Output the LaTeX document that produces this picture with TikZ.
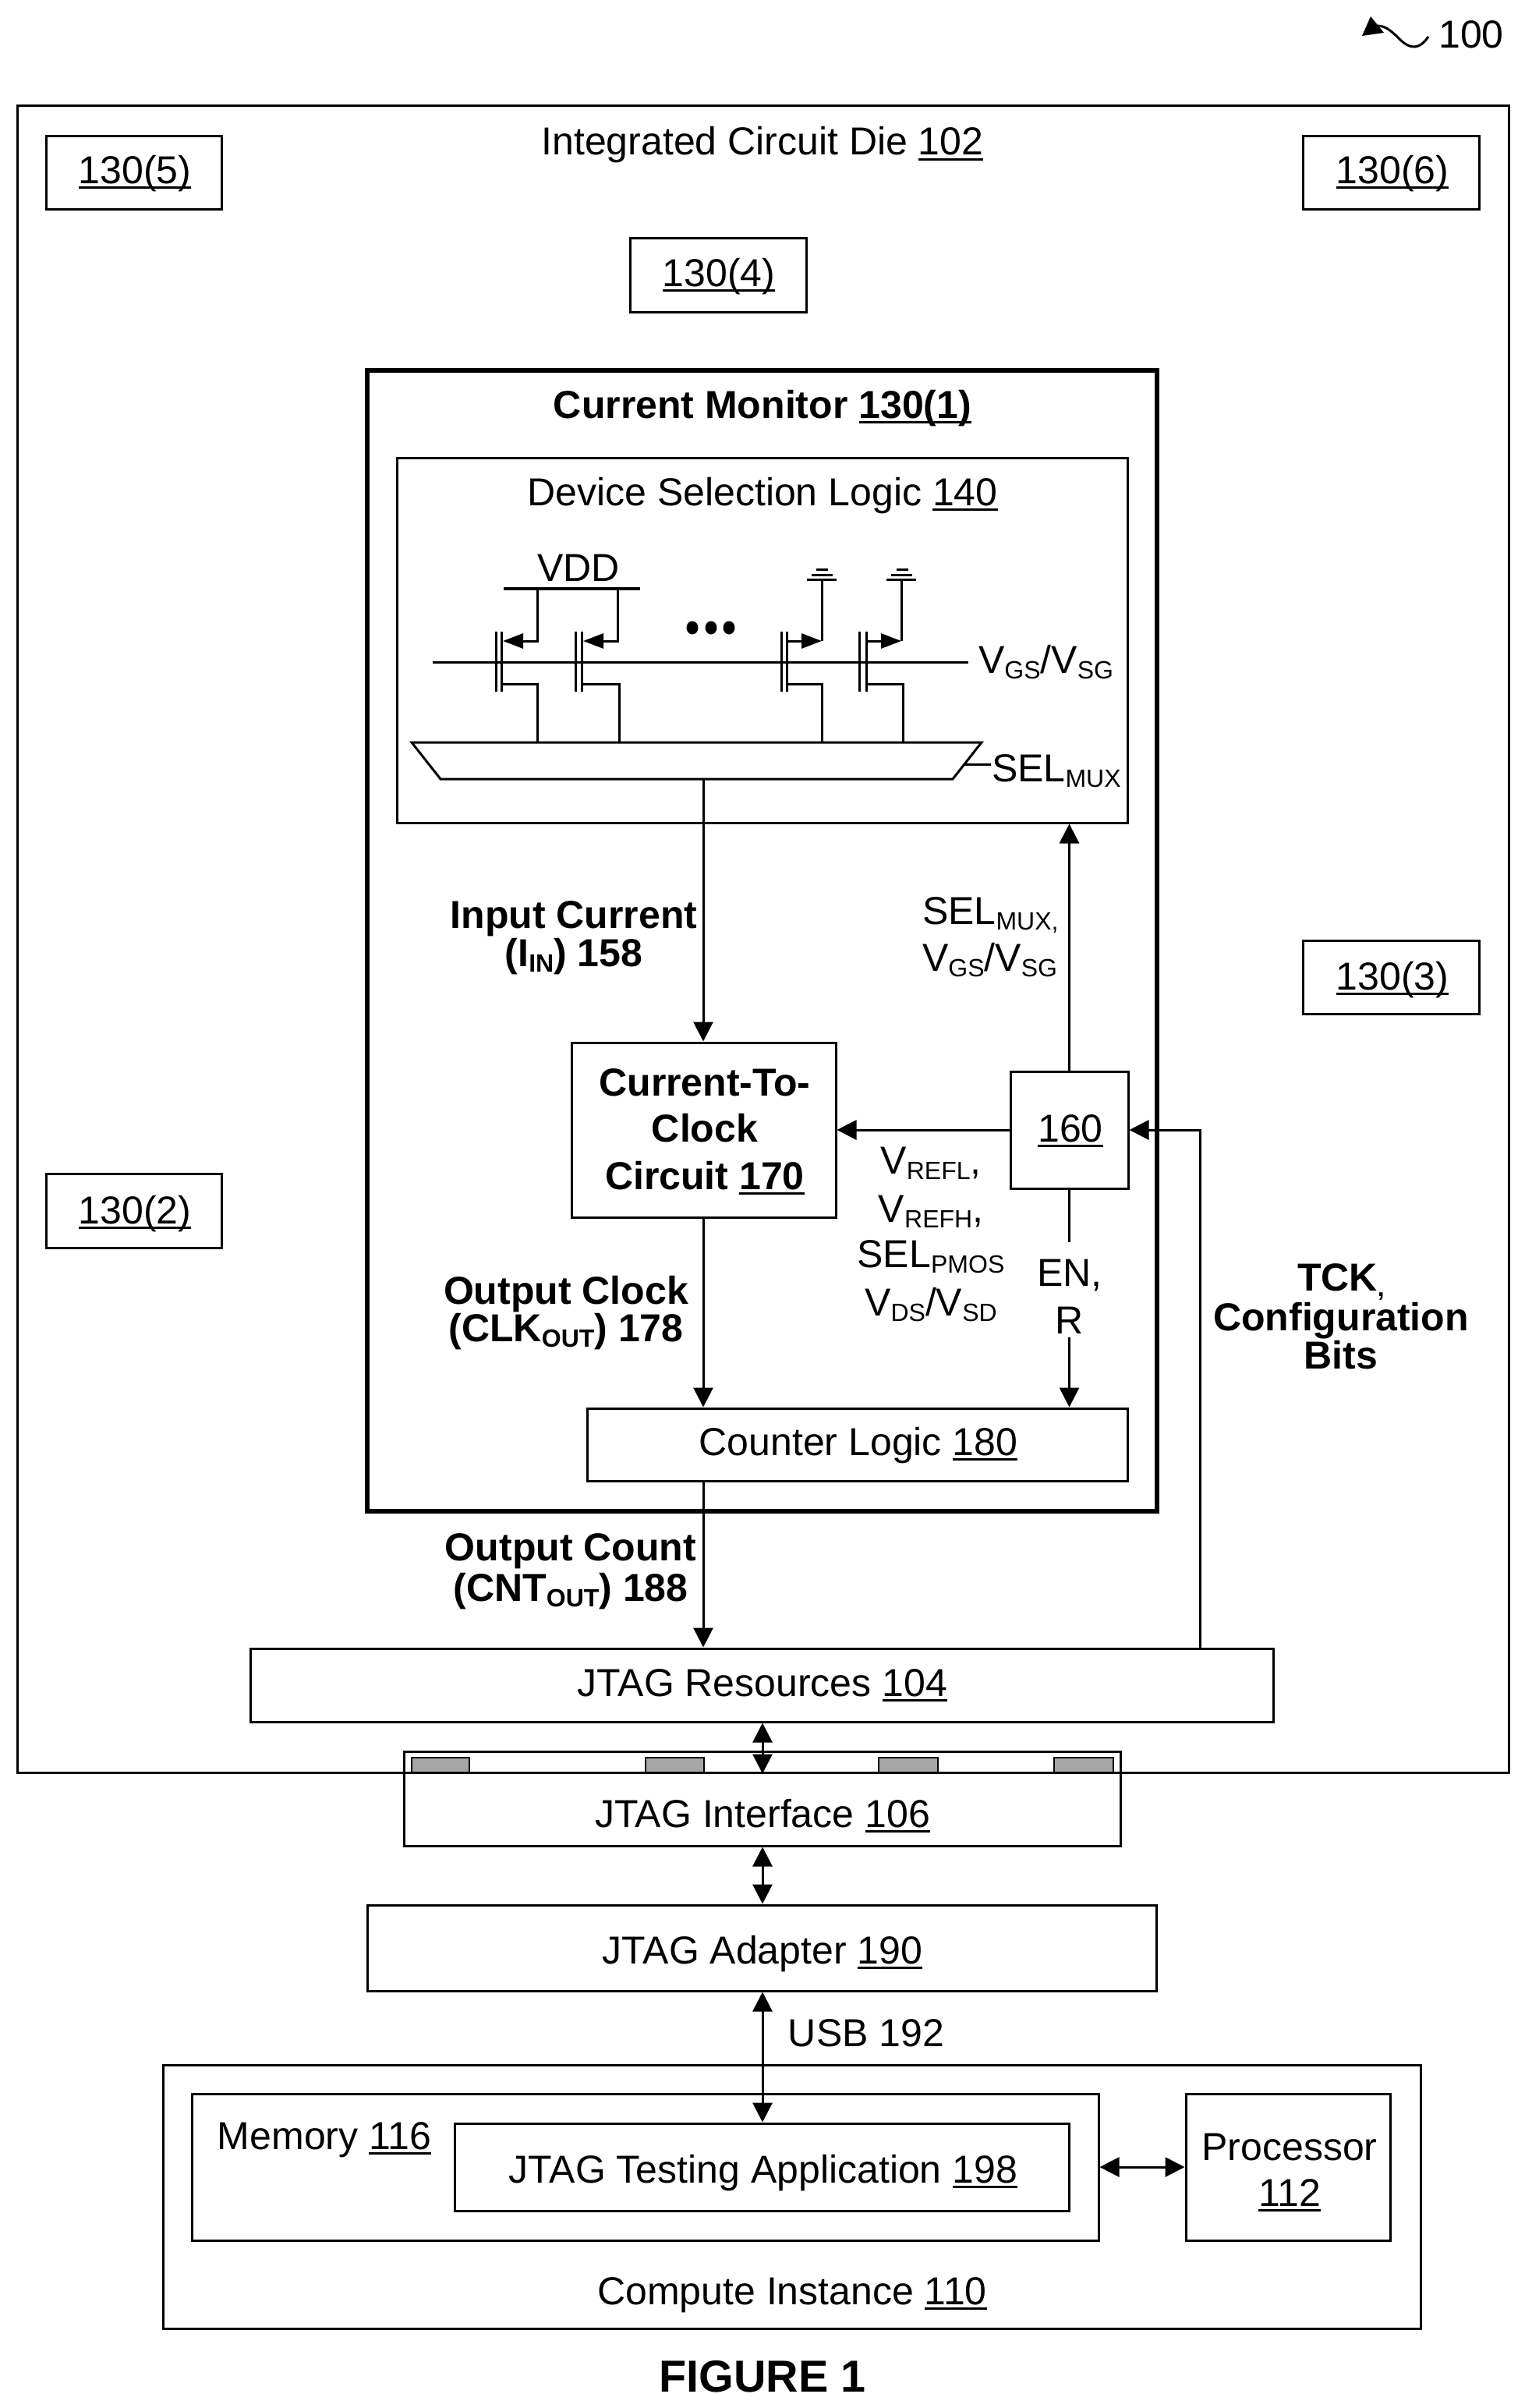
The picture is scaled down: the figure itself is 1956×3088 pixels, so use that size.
\documentclass[tikz,border=0pt]{standalone}
\usepackage{fontspec}
\setmainfont{Liberation Sans}
\usetikzlibrary{arrows.meta,fit,calc}
\newcommand\sbs[1]{\raisebox{-7pt}{\fontsize{32}{32}\selectfont #1}}
\newcommand\refu[1]{\setbox0\hbox{#1}\rlap{\copy0}\rule[-7pt]{\wd0}{3pt}}
\tikzset{
  box/.style={draw=black,line width=3pt,inner sep=0pt},
  thick box/.style={draw=black,line width=5.5pt,inner sep=0pt},
  lab/.style={anchor=base,inner sep=0pt,outer sep=0pt,font=\fontsize{50}{50}\selectfont},
  blab/.style={lab,font=\fontsize{50}{50}\selectfont\bfseries},
  wire/.style={line width=3pt},
  ar/.style={wire,-{Triangle[length=25pt,width=25pt]}},
  dar/.style={wire,{Triangle[length=25pt,width=25pt]}-{Triangle[length=25pt,width=25pt]}},
  mos/.style={line width=3pt,-{Triangle[length=26pt,width=19pt]}},
  pad/.style={draw=black,line width=2.5pt,fill=black!35,inner sep=0pt},
}
\begin{document}
\begin{tikzpicture}[x=1pt,y=-1pt]
\useasboundingbox (0,0) rectangle (1956,3088);
% reference 100
\node[lab] (n100) at (1887,62) {100};
\coordinate (h100) at (1767,33);
\draw[line width=3pt] (1832,47) .. controls (1820,65) and (1808,62) .. (1797,52) .. controls (1787,42) and (1778,33) .. (h100);
\fill (1747,46) -- (1758,21) -- (1775,42) -- cycle;
% boxes
\node[box,fit={(22,136) (1935,2273)}] (die) {};
\node[box,fit={(59,175) (284,268)}] (b5) {};
\node[box,fit={(1671,175) (1897,268)}] (b6) {};
\node[box,fit={(808,305) (1034,400)}] (b4) {};
\node[box,fit={(1671,1206) (1897,1300)}] (b3) {};
\node[box,fit={(59,1505) (284,1600)}] (b2) {};
\node[thick box,fit={(471,475) (1484,1938)}] (cm) {};
\node[box,fit={(509,587) (1446,1055)}] (dev) {};
\node[box,fit={(733,1337) (1072,1561)}] (c2c) {};
\node[box,fit={(1296,1374) (1447,1524)}] (u160) {};
\node[box,fit={(753,1806) (1446,1899)}] (cnt) {};
\node[box,fit={(321,2114) (1633,2208)}] (res) {};
\node[box,fit={(518,2246) (1437,2367)}] (jif) {};
\node[box,fit={(471,2443) (1483,2553)}] (adp) {};
\node[box,fit={(209,2648) (1822,2986)}] (ci) {};
\node[box,fit={(246,2685) (1409,2873)}] (mem) {};
\node[box,fit={(583,2723) (1371,2835)}] (app) {};
\node[box,fit={(1521,2685) (1783,2873)}] (proc) {};
% pads
\node[pad,fit={(528,2254) (602,2273)}] (p1) {};
\node[pad,fit={(828,2254) (903,2273)}] (p2) {};
\node[pad,fit={(1127,2254) (1203,2273)}] (p3) {};
\node[pad,fit={(1352,2254) (1428,2273)}] (p4) {};
% box labels
\node[lab] (t5) at (173,235) {\refu{130(5)}};
\node[lab] (t6) at (1786,235) {\refu{130(6)}};
\node[lab] (t4) at (922,367) {\refu{130(4)}};
\node[lab] (t3) at (1786,1269) {\refu{130(3)}};
\node[lab] (t2) at (173,1569) {\refu{130(2)}};
\node[lab] (tdie) at (978,199) {Integrated Circuit Die \refu{102}};
\node[blab] (tcm) at (978,536) {Current Monitor \refu{130(1)}};
\node[lab] (tdev) at (978,648) {Device Selection Logic \refu{140}};
\node[blab] (tc1) at (904,1405) {Current-To-};
\node[blab] (tc2) at (904,1464) {Clock};
\node[blab] (tc3) at (904,1525) {Circuit \refu{170}};
\node[lab] (t160) at (1373,1464) {\refu{160}};
\node[lab] (tcnt) at (1101,1866) {Counter Logic \refu{180}};
\node[lab] (tres) at (978,2175) {JTAG Resources \refu{104}};
\node[lab] (tjif) at (978,2343) {JTAG Interface \refu{106}};
\node[lab] (tadp) at (978,2518) {JTAG Adapter \refu{190}};
\node[lab] (tmem) at (416,2756) {Memory \refu{116}};
\node[lab] (tapp) at (979,2799) {JTAG Testing Application \refu{198}};
\node[lab] (tp1) at (1654,2770) {Processor};
\node[lab] (tp2) at (1654,2829) {\refu{112}};
\node[lab] (tci) at (1016,2955) {Compute Instance \refu{110}};
\node[blab,font=\fontsize{57.5}{57.5}\selectfont\bfseries] (tfig) at (978,3067) {FIGURE 1};
% connector labels
\node[blab] (i1) at (736,1190) {Input Current};
\node[blab] (i2) at (736,1239) {(I\sbs{IN}) 158};
\node[blab] (o1) at (726,1672) {Output Clock};
\node[blab] (o2) at (726,1720) {(CLK\sbs{OUT}) 178};
\node[blab] (c1) at (732,2001) {Output Count};
\node[blab] (c2) at (732,2053) {(CNT\sbs{OUT}) 188};
\node[blab] (k1) at (1720,1655) {TCK\sbs{,}};
\node[blab] (k2) at (1720,1706) {Configuration};
\node[blab] (k3) at (1720,1755) {Bits};
\node[lab,anchor=base west] (s1) at (1183,1185) {SEL\sbs{MUX,}};
\node[lab,anchor=base west] (s2) at (1183,1245) {V\sbs{GS}/V\sbs{SG}};
\node[lab] (v1) at (1194,1505) {V\sbs{REFL},};
\node[lab] (v2) at (1194,1567) {V\sbs{REFH},};
\node[lab] (v3) at (1194,1625) {SEL\sbs{PMOS}};
\node[lab] (v4) at (1194,1687) {V\sbs{DS}/V\sbs{SD}};
\node[lab] (en) at (1372,1649) {EN,};
\node[lab] (rr) at (1372,1710) {R};
\node[lab] (usb) at (1111,2624) {USB 192};
\node[lab] (vdd) at (742,745) {VDD};
\node[lab,anchor=base west] (vg) at (1255,863) {V\sbs{GS}/V\sbs{SG}};
\node[lab,anchor=base west] (sm) at (1272,1002) {SEL\sbs{MUX}};
% mux
\coordinate (mo) at (902,999);
\coordinate (mt) at (1236,980);
\coordinate (mte) at (1271,980);
\draw[wire] (528,952) -- (1259,952) -- (1222,999) -- (565,999) -- cycle;
\draw[wire] (mt) -- (mte);
% gate line
\draw[wire] (555,849) -- (1242,849);
% VDD rail
\draw[line width=4.5pt] (646,755) -- (821,755);
% transistors
\draw[wire] (636,810) -- (636,887) (643,810) -- (643,887);
\draw[wire] (738,810) -- (738,887) (746,810) -- (746,887);
\draw[wire] (1002,810) -- (1002,887) (1009,810) -- (1009,887);
\draw[wire] (1102,810) -- (1102,887) (1111,810) -- (1111,887);
\draw[mos] (689,755) |- (645,822);
\draw[mos] (792,755) |- (748,822);
\draw[mos] (1009,822) -- (1054,822);
\draw[mos] (1111,822) -- (1156,822);
\draw[wire] (1054,822) -- (1054,743);
\draw[wire] (1156,822) -- (1156,743);
\draw[wire] (643,877) -| (689,952);
\draw[wire] (746,877) -| (794,952);
\draw[wire] (1009,877) -| (1054,952);
\draw[wire] (1111,877) -| (1158,952);
% grounds
\draw[wire] (1035,743) -- (1073,743) (1041,737) -- (1068,737);
\draw[wire] (1047,730) -- (1062,730);
\draw[wire] (1137,743) -- (1175,743) (1143,737) -- (1170,737);
\draw[wire] (1150,730) -- (1165,730);
% dots
\fill (888,805) ellipse (7.5 and 8.5);
\fill (912,805) ellipse (7.5 and 8.5);
\fill (935,805) ellipse (7.5 and 8.5);
% connectors
\draw[ar] (mo) -- (mo |- c2c.north);
\draw[ar] (u160.north) -- (dev.south -| u160.north);
\draw[ar] (u160.west) -- (c2c.east |- u160.west);
\coordinate (fb) at (1539,1449);
\draw[ar] (res.north -| fb) |- (u160.east);
\draw[wire] (u160.south) -- (1371.5,1593);
\draw[ar] (1371.5,1715) -- (cnt.north -| u160.south);
\draw[ar] (mo |- c2c.south) -- (mo |- cnt.north);
\draw[ar] (mo |- cnt.south) -- (mo |- res.north);
\coordinate (dx) at (978,2200);
\draw[dar] (dx |- res.south) -- (dx |- die.south);
\draw[dar] (dx |- jif.south) -- (dx |- adp.north);
\draw[dar] (dx |- adp.south) -- (dx |- app.north);
\draw[dar] (mem.east) -- (proc.west);
\end{tikzpicture}
\end{document}
